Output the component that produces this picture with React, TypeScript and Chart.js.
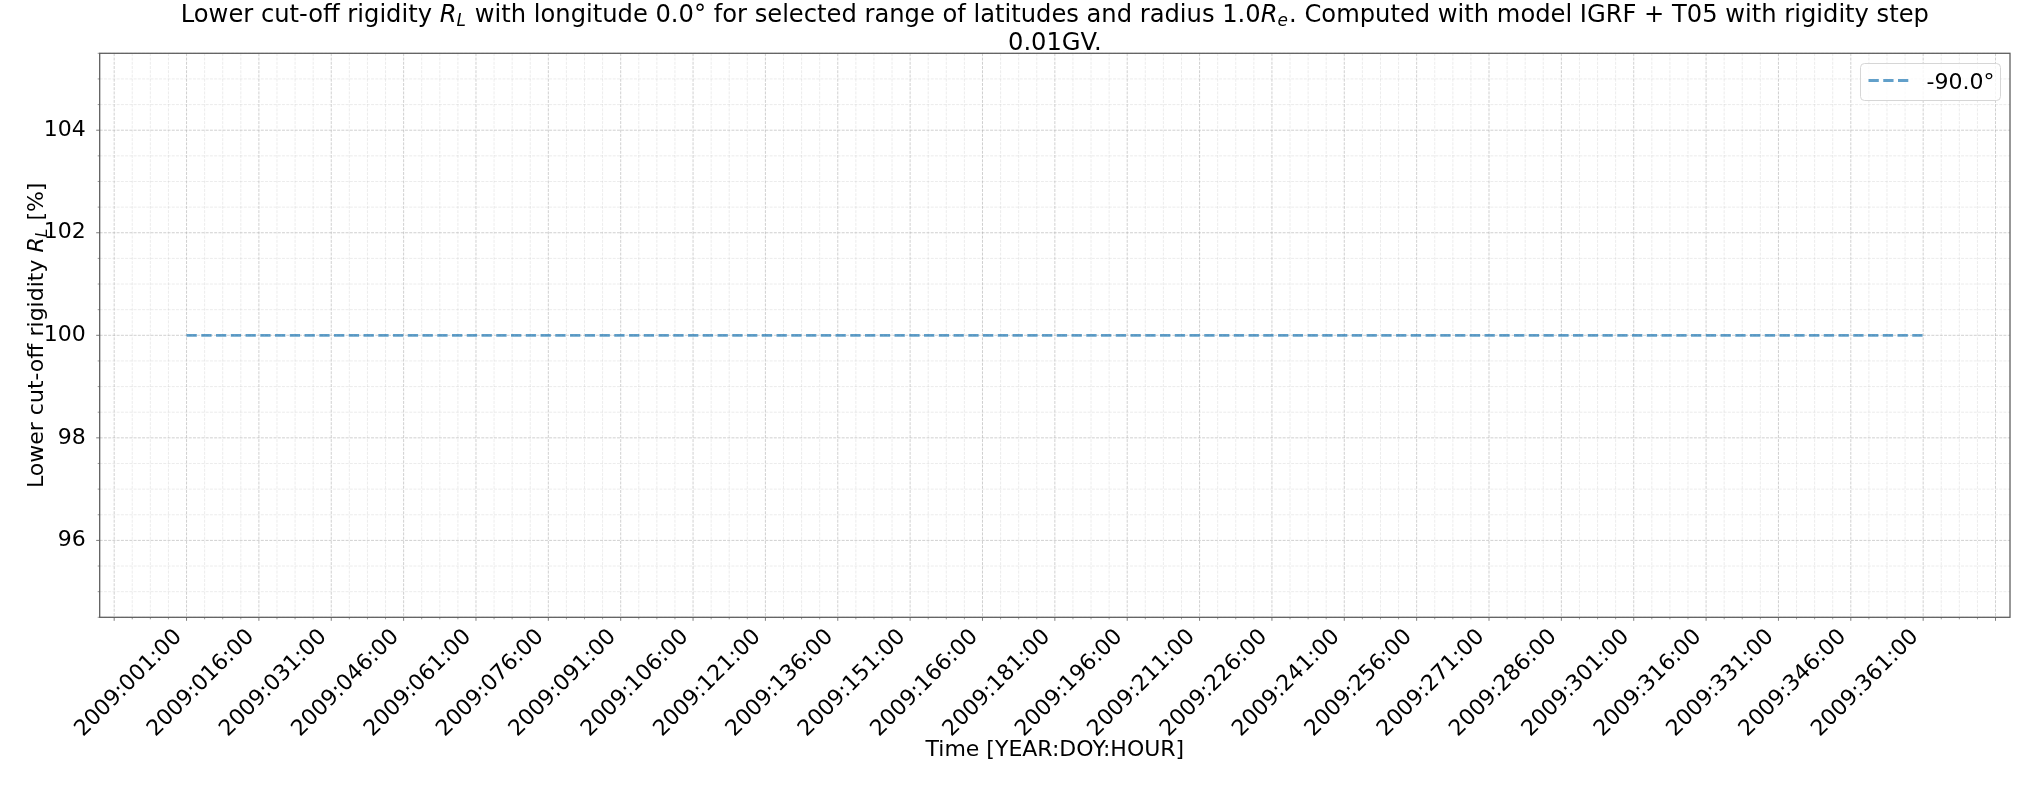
import React, { useEffect, useRef } from "react";
import { Chart, registerables } from "chart.js";

Chart.register(...registerables);

// ---------------- data ----------------
const titleLines = [
  "Lower cut-off rigidity $R_L$ with longitude 0.0° for selected range of latitudes and radius 1.0$R_e$. Computed with model IGRF + T05 with rigidity step",
  "0.01GV.",
];
const xAxisLabel = "Time [YEAR:DOY:HOUR]";
const yAxisLabel = "Lower cut-off rigidity $R_L$ [%]";
const seriesName = "-90.0°";

const times = [
  "2009:001:00", "2009:016:00", "2009:031:00", "2009:046:00", "2009:061:00",
  "2009:076:00", "2009:091:00", "2009:106:00", "2009:121:00", "2009:136:00",
  "2009:151:00", "2009:166:00", "2009:181:00", "2009:196:00", "2009:211:00",
  "2009:226:00", "2009:241:00", "2009:256:00", "2009:271:00", "2009:286:00",
  "2009:301:00", "2009:316:00", "2009:331:00", "2009:346:00", "2009:361:00",
];
const values = [
  100, 100, 100, 100, 100,
  100, 100, 100, 100, 100,
  100, 100, 100, 100, 100,
  100, 100, 100, 100, 100,
  100, 100, 100, 100, 100,
];
const xTickLabels = [
  "2009:001:00", "2009:016:00", "2009:031:00", "2009:046:00", "2009:061:00",
  "2009:076:00", "2009:091:00", "2009:106:00", "2009:121:00", "2009:136:00",
  "2009:151:00", "2009:166:00", "2009:181:00", "2009:196:00", "2009:211:00",
  "2009:226:00", "2009:241:00", "2009:256:00", "2009:271:00", "2009:286:00",
  "2009:301:00", "2009:316:00", "2009:331:00", "2009:346:00", "2009:361:00",
];
const yTickValues = [96, 98, 100, 102, 104];
const yLimits = [94.5, 105.5];

// ---------------- derived ----------------
const FONT = "'DejaVu Sans', 'Liberation Sans', sans-serif";
const toDay = (s: string) => {
  const [, d, h] = s.split(":").map(Number);
  return d + h / 24;
};
const xs = times.map(toDay);
const points = xs.map((x, i) => ({ x, y: values[i] }));
const xRange = xs[xs.length - 1] - xs[0];
const xMin = xs[0] - 0.05 * xRange;
const xMax = xs[xs.length - 1] + 0.05 * xRange;
const labelDays = xTickLabels.map(toDay);
const majorStep = labelDays[1] - labelDays[0];
const labelMap = new Map<number, string>();
labelDays.forEach((d, i) => labelMap.set(d, xTickLabels[i]));
const xMajors: number[] = [];
{
  let v = labelDays[0];
  while (v - majorStep >= xMin) v -= majorStep;
  for (; v <= xMax + 1e-9; v += majorStep) xMajors.push(v);
}
const xMinors: number[] = [];
{
  const ms = majorStep / 4;
  let v = xMajors[0];
  while (v - ms >= xMin) v -= ms;
  for (; v <= xMax + 1e-9; v += ms) {
    if (!xMajors.some((m) => Math.abs(m - v) < 1e-6)) xMinors.push(v);
  }
}
const yStep = yTickValues[1] - yTickValues[0];
const yMinors: number[] = [];
{
  const ms = yStep / 4;
  let v = yTickValues[0];
  while (v - ms >= yLimits[0] - 1e-9) v -= ms;
  for (; v <= yLimits[1] + 1e-9; v += ms) {
    if (!yTickValues.some((m) => Math.abs(m - v) < 1e-6)) yMinors.push(v);
  }
}

// ---------------- rich text (simple mathtext) ----------------
type Seg = { t: string; it: boolean; sub: boolean };
function parseMath(s: string): Seg[] {
  const out: Seg[] = [];
  s.split("$").forEach((p, i) => {
    if (!p) return;
    if (i % 2 === 0) out.push({ t: p, it: false, sub: false });
    else {
      const [base, sub] = p.split("_");
      out.push({ t: base, it: true, sub: false });
      if (sub) out.push({ t: sub, it: true, sub: true });
    }
  });
  return out;
}
function drawRich(ctx: CanvasRenderingContext2D, text: string, cx: number, baseline: number, size: number) {
  const segs = parseMath(text);
  const fontOf = (s: Seg) => `${s.it ? "italic " : ""}${s.sub ? size * 0.7 : size}px ${FONT}`;
  const widths = segs.map((s) => {
    ctx.font = fontOf(s);
    return ctx.measureText(s.t).width + (s.sub ? size * 0.05 : 0);
  });
  const total = widths.reduce((a, b) => a + b, 0);
  let x = cx - total / 2;
  ctx.textAlign = "left";
  ctx.textBaseline = "alphabetic";
  segs.forEach((s, i) => {
    ctx.font = fontOf(s);
    ctx.fillText(s.t, x, s.sub ? baseline + size * 0.2 : baseline);
    x += widths[i];
  });
}

const GRID_MAJOR = "rgba(176,176,176,0.75)";
const GRID_MINOR = "rgba(176,176,176,0.3)";
const SPINE = "#5a5a5a";

const decor = {
  id: "mplDecor",
  beforeDatasetsDraw(chart: any) {
    const { ctx, chartArea: a, scales } = chart;
    const x = scales.x, y = scales.y;
    ctx.save();
    const vline = (v: number) => {
      const p = x.getPixelForValue(v);
      ctx.beginPath(); ctx.moveTo(p, a.top); ctx.lineTo(p, a.bottom); ctx.stroke();
    };
    const hline = (v: number) => {
      const p = y.getPixelForValue(v);
      ctx.beginPath(); ctx.moveTo(a.left, p); ctx.lineTo(a.right, p); ctx.stroke();
    };
    ctx.lineWidth = 0.8;
    ctx.setLineDash([2.96, 1.28]);
    ctx.strokeStyle = GRID_MINOR;
    xMinors.forEach(vline);
    yMinors.forEach(hline);
    ctx.strokeStyle = GRID_MAJOR;
    xMajors.forEach(vline);
    yTickValues.forEach(hline);
    ctx.restore();
  },
  afterDatasetsDraw(chart: any) {
    const { ctx, chartArea: a, scales } = chart;
    const x = scales.x, y = scales.y;
    ctx.save();
    ctx.setLineDash([]);
    ctx.strokeStyle = SPINE;
    // tick marks
    ctx.lineWidth = 0.8;
    xMajors.forEach((v) => {
      const p = x.getPixelForValue(v);
      ctx.beginPath(); ctx.moveTo(p, a.bottom); ctx.lineTo(p, a.bottom + 3.5); ctx.stroke();
    });
    yTickValues.forEach((v) => {
      const p = y.getPixelForValue(v);
      ctx.beginPath(); ctx.moveTo(a.left, p); ctx.lineTo(a.left - 3.5, p); ctx.stroke();
    });
    ctx.lineWidth = 0.6;
    xMinors.forEach((v) => {
      const p = x.getPixelForValue(v);
      ctx.beginPath(); ctx.moveTo(p, a.bottom); ctx.lineTo(p, a.bottom + 2); ctx.stroke();
    });
    yMinors.forEach((v) => {
      const p = y.getPixelForValue(v);
      ctx.beginPath(); ctx.moveTo(a.left, p); ctx.lineTo(a.left - 2, p); ctx.stroke();
    });
    // frame
    ctx.lineWidth = 1.25;
    ctx.strokeRect(a.left, a.top, a.right - a.left, a.bottom - a.top);

    // legend
    const ds = chart.data.datasets[0];
    const bx = a.right - 149.5, by = a.top + 10.2, bw = 140, bh = 37;
    ctx.beginPath();
    (ctx as any).roundRect(bx, by, bw, bh, 4);
    ctx.fillStyle = "rgba(255,255,255,0.8)";
    ctx.fill();
    ctx.lineWidth = 1;
    ctx.strokeStyle = "#d6d6d6";
    ctx.stroke();
    const ly = by + 17;
    ctx.beginPath();
    ctx.setLineDash(ds.borderDash);
    ctx.strokeStyle = ds.borderColor;
    ctx.lineWidth = ds.borderWidth;
    ctx.moveTo(bx + 8, ly); ctx.lineTo(bx + 48, ly); ctx.stroke();
    ctx.setLineDash([]);
    ctx.fillStyle = "#000";
    ctx.font = `22px ${FONT}`;
    ctx.textAlign = "left";
    ctx.textBaseline = "alphabetic";
    ctx.fillText(ds.label, bx + 66, by + 25.5);
    ctx.restore();
  },
  afterDraw(chart: any) {
    const { ctx, chartArea: a } = chart;
    const cx = (a.left + a.right) / 2;
    ctx.save();
    ctx.fillStyle = "#000";
    drawRich(ctx, titleLines[0], cx, 21.6, 24.2);
    drawRich(ctx, titleLines[1], cx, 50.2, 24.2);
    drawRich(ctx, xAxisLabel, cx, 756, 22);
    ctx.translate(42.7, (a.top + a.bottom) / 2);
    ctx.rotate(-Math.PI / 2);
    drawRich(ctx, yAxisLabel, 0, 0, 22);
    ctx.restore();
  },
};

export default function App() {
  const ref = useRef<HTMLCanvasElement>(null);
  useEffect(() => {
    const chart = new Chart(ref.current!, {
      type: "line",
      data: {
        datasets: [
          {
            label: seriesName,
            data: points,
            borderColor: "rgba(31,119,180,0.7)",
            backgroundColor: "rgba(31,119,180,0.7)",
            borderWidth: 2.78,
            borderDash: [10.3, 4.45],
            pointRadius: 0,
            fill: false,
            tension: 0,
          },
        ],
      },
      plugins: [decor],
      options: {
        animation: false,
        responsive: true,
        maintainAspectRatio: false,
        devicePixelRatio: 1,
        layout: { padding: { top: 53.3, right: 25, bottom: 0, left: 0 } },
        plugins: { legend: { display: false }, title: { display: false }, tooltip: { enabled: false } },
        scales: {
          x: {
            type: "linear",
            min: xMin,
            max: xMax,
            grid: { display: false },
            border: { display: false },
            afterBuildTicks: (s: any) => {
              s.ticks = xMajors.map((v) => ({ value: v }));
            },
            afterFit: (s: any) => {
              s.height = 785 - 617.3;
            },
            ticks: {
              autoSkip: false,
              maxRotation: 45,
              minRotation: 45,
              padding: -1,
              labelOffset: -8,
              color: "#000",
              font: { family: FONT, size: 22 },
              callback: (v: any) => labelMap.get(Number(v)) ?? "",
            },
          },
          y: {
            type: "linear",
            min: yLimits[0],
            max: yLimits[1],
            grid: { display: false },
            border: { display: false },
            afterBuildTicks: (s: any) => {
              s.ticks = yTickValues.map((v) => ({ value: v }));
            },
            afterFit: (s: any) => {
              s.width = 99.7;
            },
            ticks: {
              padding: 6,
              color: "#000",
              font: { family: FONT, size: 22 },
              callback: (v: any) => String(v),
            },
          },
        },
      },
    });
    return () => chart.destroy();
  }, []);
  return (
    <div style={{ position: "absolute", left: 0, top: 0, width: 2035, height: 785 }}>
      <canvas ref={ref} />
    </div>
  );
}
